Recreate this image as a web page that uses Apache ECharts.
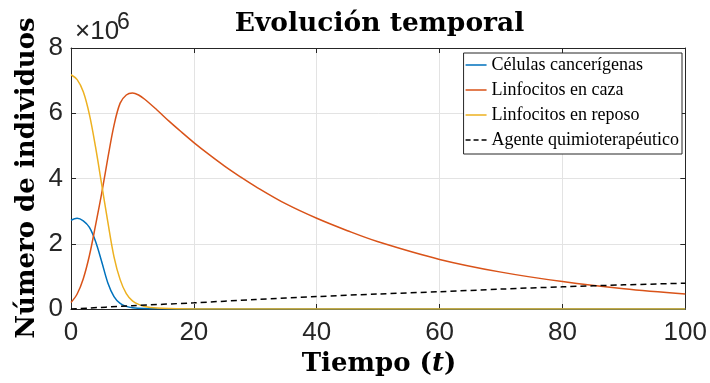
<!DOCTYPE html>
<html>
<head>
<meta charset="utf-8">
<script src="https://cdn.jsdelivr.net/npm/echarts@6/dist/echarts.min.js"></script>
<style>html,body{margin:0;padding:0;background:#fff;}#c{width:710px;height:383px;}</style>
</head>
<body>
<div id="c"></div>
<script>
// values in units of 10^6 individuals
var seriesNames = ['Células cancerígenas', 'Linfocitos en caza', 'Linfocitos en reposo', 'Agente quimioterapéutico'];
var blueT = [0, 1, 2, 3, 4, 5, 6, 7, 8, 9, 10, 12, 14, 20, 100];
var blueY = [2.72, 2.78, 2.70, 2.50, 2.07, 1.45, 0.80, 0.38, 0.17, 0.08, 0.04, 0.012, 0.004, 0, 0];
var orangeT = [0, 1, 2, 3, 4, 5, 6, 7, 8, 9, 10, 11, 12, 14, 16, 18, 20, 22.5, 25, 27.5, 30, 35, 40, 45, 50, 60, 70, 80, 90, 100];
var orangeY = [0.2, 0.46, 0.93, 1.64, 2.57, 3.55, 4.63, 5.63, 6.31, 6.56, 6.62, 6.56, 6.43, 6.1, 5.75, 5.42, 5.10, 4.73, 4.38, 4.06, 3.76, 3.22, 2.78, 2.4, 2.06, 1.52, 1.13, 0.84, 0.62, 0.46];
var yellowT = [0, 1, 2, 3, 4, 5, 6, 7, 8, 9, 10, 11, 12, 14, 16, 20, 100];
var yellowY = [7.18, 7.03, 6.66, 5.96, 4.96, 3.81, 2.66, 1.6, 0.9, 0.47, 0.25, 0.14, 0.08, 0.03, 0.012, 0, 0];
var drugT = [0, 10, 20, 30, 40, 50, 60, 70, 80, 90, 100];
var drugY = [0, 0.1, 0.19, 0.29, 0.38, 0.46, 0.53, 0.61, 0.68, 0.74, 0.79];
var xTicks = {min: 0, max: 100, interval: 20};
var yTicks = {min: 0, max: 8, interval: 2};

function pairs(t, y) { return t.map(function (v, i) { return [v, y[i]]; }); }

var axisColor = '#262626';
var gridColor = '#e3e3e3';
var labelFont = {fontFamily: 'Liberation Sans, Arial, sans-serif', fontSize: 26, color: axisColor};

// legend glyphs: a thin band (solid) or three short bands (dashed), with invisible extents for a 21x14 box
var solidIcon = 'path://M0,0L21,0L21,0.01Z M0,6.3L21,6.3L21,7.7L0,7.7Z M0,14L21,14L21,14.01Z';
var dashIcon = 'path://M0,0L21,0L21,0.01Z M0,6.3L5,6.3L5,7.7L0,7.7Z M8,6.3L13,6.3L13,7.7L8,7.7Z M16,6.3L21,6.3L21,7.7L16,7.7Z M0,14L21,14L21,14.01Z';

var chart = echarts.init(document.getElementById('c'), null, {renderer: 'canvas'});
function axisBase(extra) {
  var o = {
    type: 'value', gridIndex: 0,
    axisLine: {show: true, onZero: false, lineStyle: {color: axisColor, width: 1}},
    axisTick: {show: true, inside: true, length: 5, lineStyle: {color: axisColor, width: 1}},
    splitLine: {show: false}
  };
  for (var k in extra) o[k] = extra[k];
  return o;
}
function lineSeries(name, t, y, color, extra) {
  var s = {name: name, type: 'line', data: pairs(t, y), showSymbol: false, symbol: 'none',
    smooth: 0.35,
    lineStyle: {color: color, width: 1.5}, itemStyle: {color: color}, z: 3};
  for (var k in extra) s[k] = extra[k];
  return s;
}
var option = {
  animation: false,
  backgroundColor: '#fff',
  grid: {left: 71, top: 48, right: 24, bottom: 74, containLabel: false},
  xAxis: [
    axisBase({position: 'bottom', min: xTicks.min, max: xTicks.max, interval: xTicks.interval,
      axisLabel: Object.assign({margin: 11}, labelFont),
      splitLine: {show: true, lineStyle: {color: gridColor, width: 1}}}),
    axisBase({position: 'top', min: xTicks.min, max: xTicks.max, interval: xTicks.interval,
      axisLabel: {show: false}})
  ],
  yAxis: [
    axisBase({position: 'left', min: yTicks.min, max: yTicks.max, interval: yTicks.interval,
      axisLabel: Object.assign({margin: 8}, labelFont),
      splitLine: {show: true, lineStyle: {color: gridColor, width: 1}}}),
    axisBase({position: 'right', min: yTicks.min, max: yTicks.max, interval: yTicks.interval,
      axisLabel: {show: false}})
  ],
  legend: {
    orient: 'vertical', right: 28, top: 53,
    backgroundColor: '#fff', borderColor: axisColor, borderWidth: 1, borderRadius: 0,
    padding: [3, 3, 5, 2], itemGap: 7, itemWidth: 21, itemHeight: 14,
    textStyle: {fontFamily: 'Liberation Serif, Times New Roman, serif', fontSize: 18, color: '#000', lineHeight: 14},
    data: seriesNames.map(function (n, i) { return {name: n, icon: i === 3 ? dashIcon : solidIcon}; })
  },
  series: [
    lineSeries(seriesNames[0], blueT, blueY, '#0072BD'),
    lineSeries(seriesNames[1], orangeT, orangeY, '#D95319'),
    lineSeries(seriesNames[2], yellowT, yellowY, '#EDB120'),
    lineSeries(seriesNames[3], drugT, drugY, '#000', {smooth: 0.3,
      lineStyle: {color: '#000', width: 1.5, type: [6, 4]}, z: 4})
  ],
  graphic: [
    {type: 'text', x: 379.5, y: 24, z: 10, style: {text: 'Evolución temporal', fill: '#000',
      font: 'bold 26.5px "DejaVu Serif", serif', align: 'center', verticalAlign: 'middle'}},
    {type: 'text', x: 27, y: 178, rotation: Math.PI / 2, z: 10, style: {text: 'Número de individuos', fill: '#000',
      font: 'bold 26px "DejaVu Serif", serif', align: 'center', verticalAlign: 'middle'}},
    {type: 'text', x: 379, y: 364, z: 10, style: {
      text: '{b|Tiempo (}{i|t}{b|)}', align: 'center', verticalAlign: 'middle',
      rich: {
        b: {fontFamily: 'DejaVu Serif', fontWeight: 'bold', fontSize: 26, fill: '#000', color: '#000'},
        i: {fontFamily: 'DejaVu Serif', fontWeight: 'bold', fontStyle: 'italic', fontSize: 26, fill: '#000', color: '#000'}
      }}},
    {type: 'text', x: 75, y: 32, z: 10, style: {text: '×10', fill: axisColor,
      font: '26px "Liberation Sans", Arial, sans-serif', align: 'left', verticalAlign: 'middle'}},
    {type: 'text', x: 117, y: 23, z: 10, style: {text: '6', fill: axisColor,
      font: '23px "Liberation Sans", Arial, sans-serif', align: 'left', verticalAlign: 'middle'}}
  ]
};
chart.setOption(option);
</script>
</body>
</html>
